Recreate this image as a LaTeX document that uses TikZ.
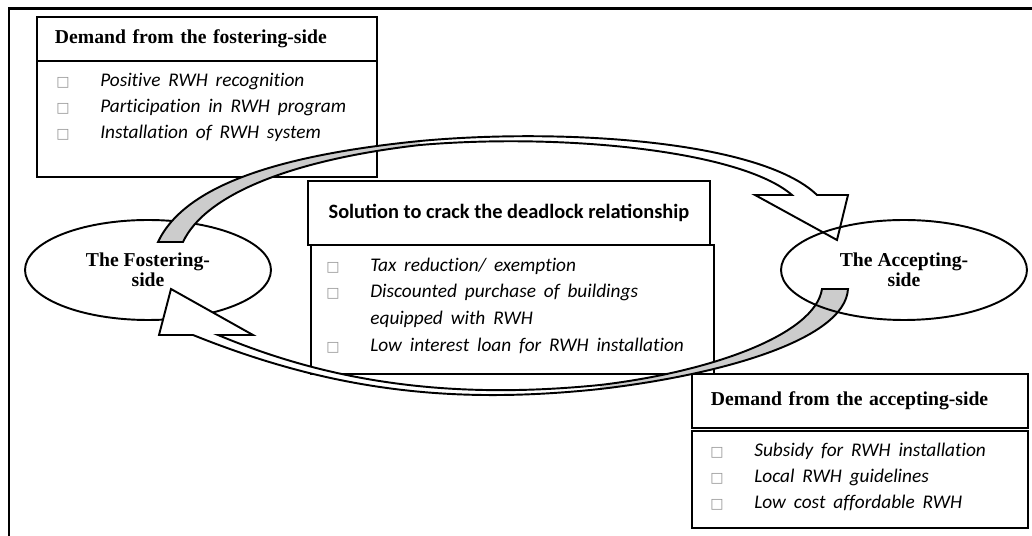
\documentclass[tikz,border=0pt]{standalone}
\usepackage{fontspec}
\setmainfont{Liberation Serif}
\newfontfamily\calfont{Carlito}
\newfontfamily\itemfont[Ligatures=NoCommon, WordSpace=1.8]{Carlito}
\newfontfamily\bulfont{DejaVu Sans}
\usetikzlibrary{shapes.geometric}

\definecolor{bandgray}{RGB}{204,204,204}
\definecolor{bulgray}{RGB}{150,150,150}
\newcommand\bul{\makebox[25pt][l]{\bulfont\fontsize{8}{8}\selectfont\color{bulgray}\char"25A1}}

\tikzset{
  box/.style={draw, line width=1.1pt, fill=white, rectangle, anchor=north west, inner sep=0pt},
  headf/.style={box, font=\bfseries\fontsize{11.2}{13}\selectfont, align=left},
  heads/.style={box, font=\calfont\bfseries\fontsize{11.6}{14}\selectfont, align=center},
  oval/.style={ellipse, line width=1.1pt, inner sep=0pt, minimum width=4.92cm,
    minimum height=2cm, align=center, font=\bfseries\fontsize{11.2}{11.6}\selectfont},
  item/.style={anchor=base west, inner sep=0pt, font=\itemfont\itshape\fontsize{11}{12}\selectfont},
  band/.style={line width=1.1pt, line join=miter}
}

\begin{document}
\begin{tikzpicture}[x=0.02cm,y=-0.02cm]
\useasboundingbox (0,0) rectangle (1032,536);
% frame
\draw[line width=1.7pt] (9,536) -- (9,9) -- (1032,9);

% the two sides
\node[oval, draw, fill=white] (fost) at (148,270) {The Fostering-\\side};

% demand from the fostering-side
\node[headf, minimum height=0.88cm, text width=6.08cm, inner xsep=0.36cm] (fhead) at (36,16)
  {Demand from the fostering-side};
\node[box, minimum width=6.8cm, minimum height=2.32cm] (fbody) at (36,60) {};
\foreach \t [count=\i] in {Positive RWH recognition, Participation in RWH program, Installation of RWH system}
  \node[item] (fi\i) at (56,{61+26*\i}) {\bul\t};

% solution
\node[heads, minimum width=8.04cm, minimum height=1.28cm] (shead) at (307,180)
  {Solution to crack the deadlock relationship};
\node[box, minimum width=8.06cm, minimum height=2.58cm] (sbody) at (310,244) {};
\node[item] (si1) at (326,272) {\bul Tax reduction/ exemption};
\node[item] (si2) at (326,298) {\bul Discounted purchase of buildings};
\node[item] (si3) at (370,325) {equipped with RWH};
\node[item] (si4) at (326,352) {\bul Low interest loan for RWH installation};

% demand from the accepting-side
\node[headf, minimum height=1.08cm, text width=5.96cm, inner xsep=0.38cm] (ahead) at (691,373)
  {Demand from the accepting-side};
\node[box, minimum width=6.72cm, minimum height=1.94cm] (abody) at (691,430) {};
\foreach \t [count=\i] in {Subsidy for RWH installation, Local RWH guidelines, Low cost affordable RWH}
  \node[item] (ai\i) at (710,{431+26*\i}) {\bul\t};

% upper curved arrow: fostering -> accepting
\fill[white] (158,242) .. controls (185,185) and (280,155) .. (420,141)
  .. controls (560,128) and (760,140) .. (817,195) -- (848,195) -- (837,240) -- (755,195) -- (792,195)
  .. controls (740,150) and (560,133) .. (420,145) .. controls (290,160) and (205,195) .. (183,242) -- cycle;
\fill[bandgray] (158,242) .. controls (185,185) and (280,155) .. (420,141) -- (420,145)
  .. controls (290,160) and (205,195) .. (183,242) -- cycle;
\draw[band] (158,242) .. controls (185,185) and (280,155) .. (420,141)
  .. controls (560,128) and (760,140) .. (817,195) -- (848,195) -- (837,240) -- (755,195) -- (792,195)
  .. controls (740,150) and (560,133) .. (420,145) .. controls (290,160) and (205,195) .. (183,242) -- cycle;

% lower curved arrow: accepting -> fostering
\fill[white] (848,289) .. controls (845,340) and (720,375) .. (600,389)
  .. controls (450,405) and (330,390) .. (193,335) -- (159,335) -- (171,289) -- (253,335) -- (218,335)
  .. controls (330,382) and (450,400) .. (600,385) .. controls (710,372) and (815,335) .. (822,289) -- cycle;
\fill[bandgray] (848,289) .. controls (845,340) and (720,375) .. (600,389) -- (600,385)
  .. controls (710,372) and (815,335) .. (822,289) -- cycle;
\draw[band] (848,289) .. controls (845,340) and (720,375) .. (600,389)
  .. controls (450,405) and (330,390) .. (193,335) -- (159,335) -- (171,289) -- (253,335) -- (218,335)
  .. controls (330,382) and (450,400) .. (600,385) .. controls (710,372) and (815,335) .. (822,289) -- cycle;

\node[oval, draw] (acc) at (904,270) {The Accepting-\\side};
\end{tikzpicture}
\end{document}
